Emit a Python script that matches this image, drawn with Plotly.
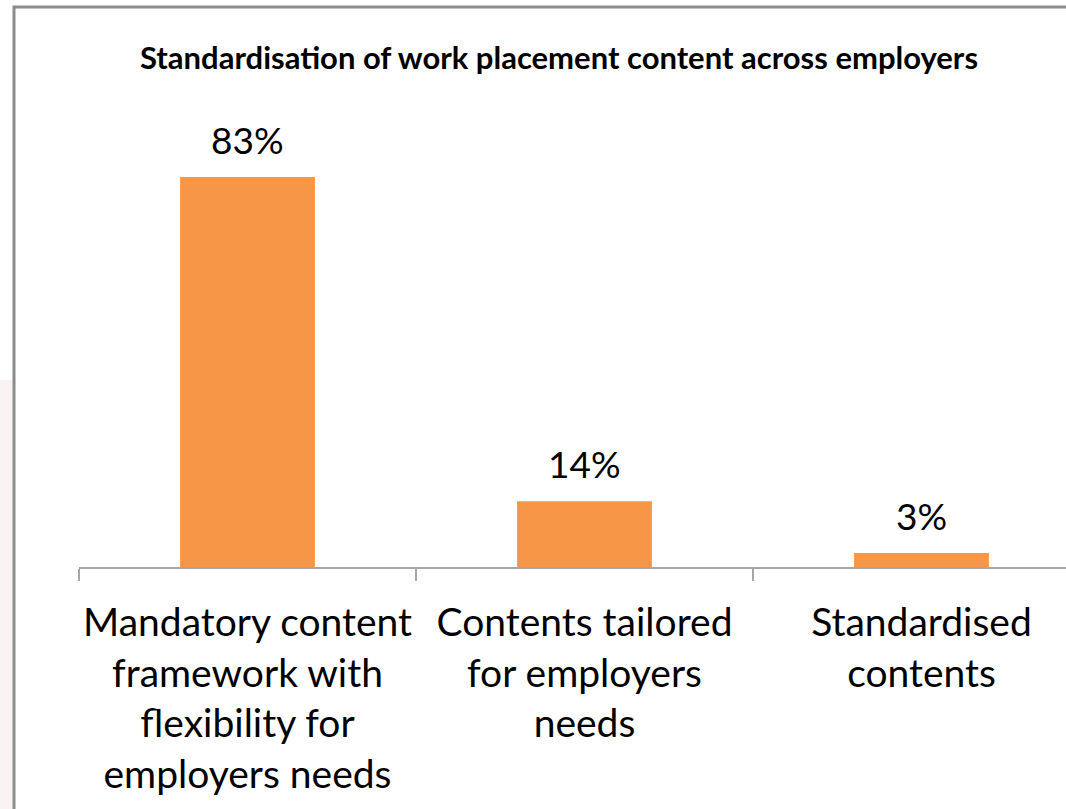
import plotly.graph_objects as go

# Survey results
categories = [
    "Mandatory content<br>framework with<br>flexibility for<br>employers needs",
    "Contents tailored<br>for employers<br>needs",
    "Standardised<br>contents",
]
shares = [83, 14, 3]
value_labels = ["83%", "14%", "3%"]
title_text = "Standardisation of work placement content across employers"

W, H = 1066, 809
M_L, M_R, M_T, M_B = 79, 0, 100, 242
PLOT_W = W - M_L - M_R
PLOT_H = H - M_T - M_B

BAR_COLOR = "#F79646"
AXIS_COLOR = "#A6A6A6"
FONT = "Lato"


def px_x(px):
    return (px - M_L) / PLOT_W


def px_y(py):
    return (H - M_B - py) / PLOT_H


fig = go.Figure(
    go.Bar(
        x=categories,
        y=shares,
        marker=dict(color=BAR_COLOR, line=dict(width=0)),
        width=0.4,
        hoverinfo="skip",
    )
)

for cat, val, lab in zip(categories, shares, value_labels):
    fig.add_annotation(
        x=cat, y=val, text=lab, showarrow=False,
        yanchor="bottom", yshift=13,
        font=dict(family=FONT, size=37, color="#000000"),
    )

fig.add_annotation(
    xref="paper", yref="paper", x=px_x(559), y=px_y(57),
    text=f"<b>{title_text}</b>", showarrow=False,
    xanchor="center", yanchor="middle",
    font=dict(family=FONT, size=31, color="#000000"),
)

# chart frame and faint backdrop strip on the left
fig.add_shape(
    type="rect", xref="paper", yref="paper", layer="below",
    x0=px_x(0), x1=px_x(12), y0=px_y(820), y1=px_y(380),
    fillcolor="#F9F3F1", line=dict(width=0),
)
fig.add_shape(
    type="rect", xref="paper", yref="paper", layer="below",
    x0=px_x(14), x1=px_x(1100), y0=px_y(830), y1=px_y(7),
    fillcolor="rgba(0,0,0,0)", line=dict(color="#8C8C8C", width=3),
)

fig.update_layout(
    width=W, height=H,
    margin=dict(l=M_L, r=M_R, t=M_T, b=M_B, autoexpand=False),
    paper_bgcolor="#FFFFFF",
    plot_bgcolor="#FFFFFF",
    showlegend=False,
    bargap=0.6,
    xaxis=dict(
        type="category",
        range=[-0.5, 2.5 - 24 / 337],
        showline=True, linecolor=AXIS_COLOR, linewidth=2,
        ticks="outside", tickson="boundaries", ticklen=12,
        tickcolor=AXIS_COLOR, tickwidth=2,
        showgrid=False, zeroline=False,
        tickangle=0, automargin=False,
        tickfont=dict(family=FONT, size=39, color="#000000"),
        ticklabelstandoff=20,
    ),
    yaxis=dict(
        range=[0, PLOT_H / (390 / 83)],
        visible=False, showgrid=False, zeroline=False,
        automargin=False,
    ),
)

fig.write_html("out.html")
